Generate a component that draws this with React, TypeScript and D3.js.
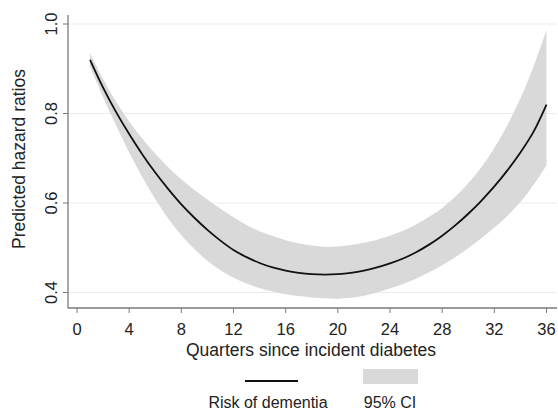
import React, { useEffect, useRef } from 'react'
import * as d3 from 'd3'

const quarters = d3.range(1, 37)

const riskOfDementia = [
    0.920, 0.858, 0.803, 0.754, 0.709, 0.668, 0.631, 0.597, 0.567, 0.540,
    0.516, 0.495, 0.479, 0.466, 0.456, 0.449, 0.444, 0.441, 0.440, 0.441,
    0.444, 0.449, 0.456, 0.465, 0.476, 0.490, 0.507, 0.527, 0.550, 0.576,
    0.605, 0.637, 0.673, 0.713, 0.759, 0.820,
]

const ciUpper = [
    0.935, 0.877, 0.826, 0.782, 0.744, 0.710, 0.680, 0.653, 0.629, 0.608,
    0.587, 0.568, 0.551, 0.537, 0.526, 0.517, 0.510, 0.505, 0.502, 0.503,
    0.506, 0.511, 0.518, 0.527, 0.538, 0.552, 0.569, 0.589, 0.614, 0.644,
    0.680, 0.723, 0.774, 0.834, 0.904, 0.987,
]

const ciLower = [
    0.905, 0.837, 0.773, 0.713, 0.658, 0.609, 0.565, 0.528, 0.497, 0.471,
    0.450, 0.433, 0.420, 0.410, 0.402, 0.396, 0.392, 0.389, 0.387, 0.386,
    0.388, 0.393, 0.400, 0.409, 0.419, 0.431, 0.445, 0.461, 0.479, 0.499,
    0.521, 0.545, 0.571, 0.602, 0.640, 0.684,
]

const xTicks = [0, 4, 8, 12, 16, 20, 24, 28, 32, 36]
const yTicks = [0.4, 0.6, 0.8, 1.0]

const FONT = 'Liberation Sans, Arial, sans-serif'

const App = () => {
    const ref = useRef<SVGSVGElement | null>(null)

    useEffect(() => {
        const svg = d3.select(ref.current)
        svg.selectAll('*').remove()

        const x = d3.scaleLinear().domain([0, 36]).range([77, 546.5])
        const y = d3.scaleLinear().domain([0.4, 1.0]).range([292.5, 24])

        const axisLeft = 68
        const axisBottom = 308
        const right = 557

        const rows = quarters.map((q, i) => ({
            q,
            v: riskOfDementia[i],
            lo: ciLower[i],
            hi: ciUpper[i],
        }))

        // gridlines
        svg.append('g')
            .selectAll('line')
            .data(yTicks)
            .join('line')
            .attr('x1', axisLeft)
            .attr('x2', right)
            .attr('y1', d => y(d))
            .attr('y2', d => y(d))
            .attr('stroke', '#ececec')
            .attr('stroke-width', 1)

        // CI band
        const area = d3.area<any>()
            .x(d => x(d.q))
            .y0(d => y(d.lo))
            .y1(d => y(d.hi))
            .curve(d3.curveCatmullRom.alpha(0.5))

        svg.append('path')
            .datum(rows)
            .attr('d', area)
            .attr('fill', '#d9d9d9')

        const line = d3.line<any>()
            .x(d => x(d.q))
            .y(d => y(d.v))
            .curve(d3.curveCatmullRom.alpha(0.5))

        svg.append('path')
            .datum(rows)
            .attr('d', line)
            .attr('fill', 'none')
            .attr('stroke', '#111')
            .attr('stroke-width', 1.8)

        // axes
        const axisColor = '#7a7a7a'
        svg.append('line')
            .attr('x1', axisLeft).attr('x2', axisLeft)
            .attr('y1', 15).attr('y2', axisBottom)
            .attr('stroke', axisColor).attr('stroke-width', 1.3)
        svg.append('line')
            .attr('x1', axisLeft).attr('x2', right)
            .attr('y1', axisBottom).attr('y2', axisBottom)
            .attr('stroke', axisColor).attr('stroke-width', 1.3)

        svg.append('g')
            .selectAll('line')
            .data(xTicks)
            .join('line')
            .attr('x1', d => x(d)).attr('x2', d => x(d))
            .attr('y1', axisBottom).attr('y2', axisBottom + 5)
            .attr('stroke', axisColor)

        svg.append('g')
            .selectAll('text')
            .data(xTicks)
            .join('text')
            .attr('x', d => x(d))
            .attr('y', 335)
            .attr('text-anchor', 'middle')
            .attr('font-family', FONT)
            .attr('font-size', 16.5)
            .attr('fill', '#222')
            .text(d => d)

        svg.append('g')
            .selectAll('line')
            .data(yTicks)
            .join('line')
            .attr('x1', axisLeft - 5).attr('x2', axisLeft)
            .attr('y1', d => y(d)).attr('y2', d => y(d))
            .attr('stroke', axisColor)

        svg.append('g')
            .selectAll('text')
            .data(yTicks)
            .join('text')
            .attr('transform', d => `translate(57,${y(d)}) rotate(-90)`)
            .attr('text-anchor', 'middle')
            .attr('font-family', FONT)
            .attr('font-size', 16.5)
            .attr('fill', '#222')
            .text(d => d3.format('.1f')(d))

        svg.append('text')
            .attr('transform', 'translate(25,159) rotate(-90)')
            .attr('text-anchor', 'middle')
            .attr('font-family', FONT)
            .attr('font-size', 17.5)
            .attr('fill', '#222')
            .text('Predicted hazard ratios')

        svg.append('text')
            .attr('x', 311)
            .attr('y', 356)
            .attr('text-anchor', 'middle')
            .attr('font-family', FONT)
            .attr('font-size', 17.5)
            .attr('fill', '#222')
            .text('Quarters since incident diabetes')

        // legend
        svg.append('line')
            .attr('x1', 245).attr('x2', 298)
            .attr('y1', 381).attr('y2', 381)
            .attr('stroke', '#111').attr('stroke-width', 1.8)
        svg.append('rect')
            .attr('x', 363).attr('y', 369)
            .attr('width', 55).attr('height', 15)
            .attr('fill', '#d9d9d9')
        svg.append('text')
            .attr('x', 268).attr('y', 408)
            .attr('text-anchor', 'middle')
            .attr('font-family', FONT)
            .attr('font-size', 16)
            .attr('fill', '#222')
            .text('Risk of dementia')
        svg.append('text')
            .attr('x', 390).attr('y', 408)
            .attr('text-anchor', 'middle')
            .attr('font-family', FONT)
            .attr('font-size', 16)
            .attr('fill', '#222')
            .text('95% CI')
    }, [])

    return (
        <div style={{ position: 'absolute', left: 0, top: 0, width: 558, height: 412, background: '#fff' }}>
            <svg ref={ref} width={558} height={412} style={{ display: 'block' }} />
        </div>
    )
}

export default App
